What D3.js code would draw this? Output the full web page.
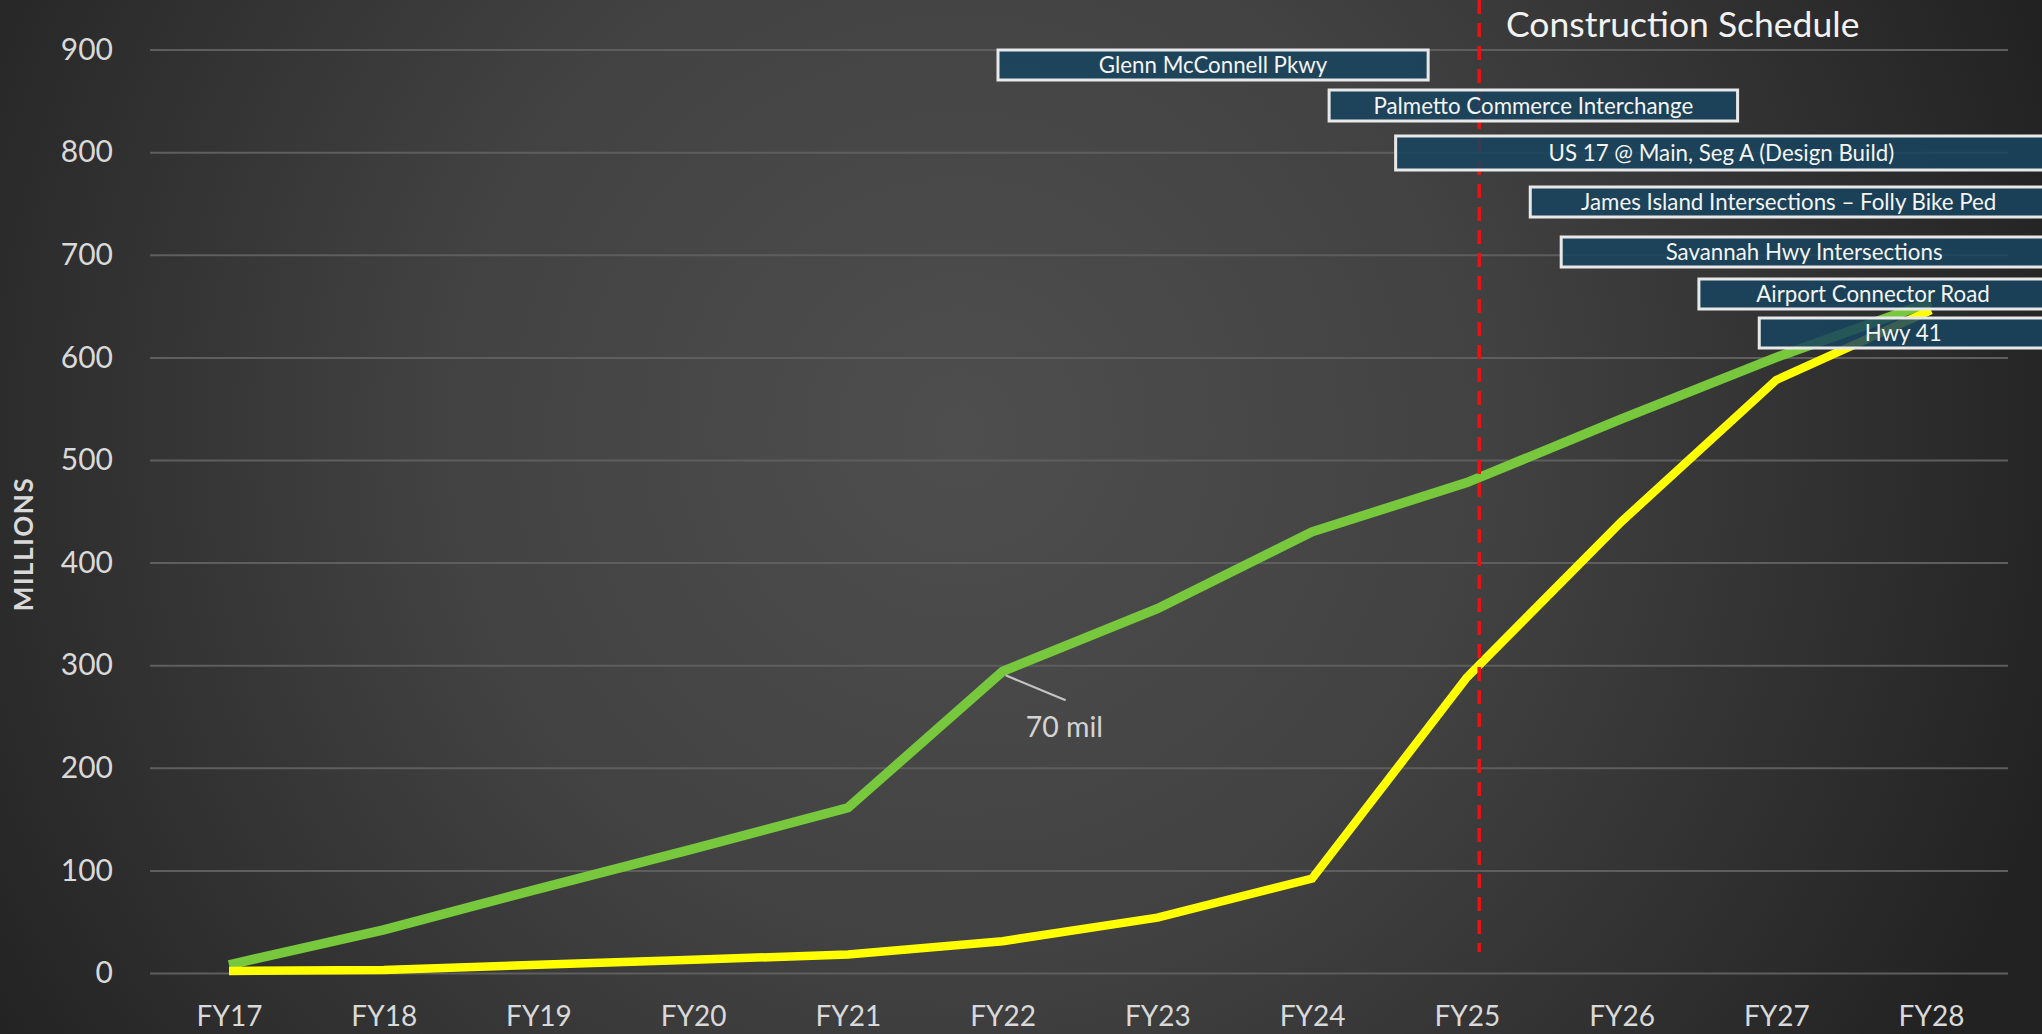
<!DOCTYPE html>
<html>
<head>
<meta charset="utf-8">
<script src="https://cdn.jsdelivr.net/npm/d3@7"></script>
<style>
  html, body { margin: 0; padding: 0; background: #2a2a2a; }
  svg { display: block; }
  text { font-family: Lato, "Open Sans", sans-serif; }
</style>
</head>
<body>
<svg id="chart" width="2042" height="1034"></svg>
<script>
// ---------- data ----------
const categories = ["FY17","FY18","FY19","FY20","FY21","FY22","FY23","FY24","FY25","FY26","FY27","FY28"];
const fiscalYears = [17,18,19,20,21,22,23,24,25,26,27,28];
const greenSeries = [8, 42, 82, 121, 161, 294, 355, 430, 478, 540, 600, 654];
const yellowSeries = [2, 3, 8, 13, 18, 31, 54, 92, 288, 440, 578, 646];
const yTickValues = [0,100,200,300,400,500,600,700,800,900];

const projectNames = [
  "Glenn McConnell Pkwy",
  "Palmetto Commerce Interchange",
  "US 17 @ Main, Seg A (Design Build)",
  "James Island Intersections \u2013 Folly Bike Ped",
  "Savannah Hwy Intersections",
  "Airport Connector Road",
  "Hwy 41"
];
const projectStart = [21.97, 24.11, 24.54, 25.41, 25.61, 26.50, 26.89];
const projectEnd   = [24.75, 26.75, 28.75, 28.75, 28.75, 28.75, 28.75];
const currentMarker = 25.08;

const titleText = "Construction Schedule";
const yAxisTitle = "MILLIONS";
const annotationText = "70 mil";
const annotationYear = 22;

// ---------- layout ----------
const W = 2042, H = 1034;
const svg = d3.select("#chart");
const x = d3.scaleLinear().domain([17, 28]).range([229, 1931]);
const y = d3.scaleLinear().domain([0, 900]).range([973, 49.6]);
const gridX0 = 150, gridX1 = 2008;
const rowTop = [50, 90, 136, 187, 237, 279, 318];
const rowH   = [30, 31, 34, 30, 30, 30, 30];

// background
const defs = svg.append("defs");
const rg = defs.append("radialGradient").attr("id", "bg")
  .attr("gradientUnits", "userSpaceOnUse")
  .attr("cx", 960).attr("cy", 430).attr("r", 1150);
rg.append("stop").attr("offset", "0").attr("stop-color", "#4e4e4e");
rg.append("stop").attr("offset", "0.45").attr("stop-color", "#424242");
rg.append("stop").attr("offset", "0.8").attr("stop-color", "#2e2e2e");
rg.append("stop").attr("offset", "1").attr("stop-color", "#222222");
svg.append("rect").attr("width", W).attr("height", H).attr("fill", "url(#bg)");

// gridlines
const yAxis = d3.axisLeft(y).tickValues(yTickValues).tickSize(-(gridX1 - gridX0)).tickPadding(37);
const gy = svg.append("g").attr("transform", `translate(${gridX0},0)`).call(yAxis);
gy.select(".domain").remove();
gy.selectAll(".tick line").attr("stroke", "#5e5e5e").attr("stroke-width", 2);
gy.selectAll(".tick text").attr("fill", "#d9d9d9").attr("font-size", 30).attr("font-family", "Lato");

// x axis labels
const xAxis = d3.axisBottom(x).tickValues(fiscalYears).tickFormat((d, i) => categories[i]).tickSize(0).tickPadding(0);
const gx = svg.append("g").attr("transform", `translate(0,${y(0)})`).call(xAxis);
gx.select(".domain").remove();
gx.selectAll(".tick text").attr("fill", "#d9d9d9").attr("font-size", 28).attr("font-family", "Lato")
  .attr("dy", null).attr("y", 53);

// y-axis title
svg.append("text").attr("transform", "translate(33,544) rotate(-90)")
  .attr("text-anchor", "middle").attr("fill", "#d9d9d9").attr("font-weight", "bold")
  .attr("font-size", 26).attr("letter-spacing", 1.5).text(yAxisTitle);

// lines
const line = d3.line().x((d, i) => x(fiscalYears[i])).y(d => y(d));
svg.append("path").datum(greenSeries).attr("d", line).attr("fill", "none")
  .attr("stroke", "#78c83e").attr("stroke-width", 9.5).attr("stroke-linejoin", "miter");
svg.append("path").datum(yellowSeries).attr("d", line).attr("fill", "none")
  .attr("stroke", "#ffff00").attr("stroke-width", 8.5).attr("stroke-linejoin", "miter");

// annotation
const ax = x(annotationYear), ay = y(greenSeries[fiscalYears.indexOf(annotationYear)]);
svg.append("line").attr("x1", ax + 3).attr("y1", ay + 4).attr("x2", ax + 63).attr("y2", ay + 29)
  .attr("stroke", "#c4c4c4").attr("stroke-width", 2.2);
svg.append("text").attr("x", ax + 23).attr("y", ay + 66).attr("fill", "#d4d4d4")
  .attr("font-size", 28.5).text(annotationText);

// current marker
svg.append("line").attr("x1", x(currentMarker)).attr("x2", x(currentMarker))
  .attr("y1", 0).attr("y2", 952).attr("stroke", "#ee1111").attr("stroke-width", 3.5)
  .attr("stroke-dasharray", "14,9");

// title
svg.append("text").attr("x", 1506).attr("y", 37).attr("fill", "#f2f2f2")
  .attr("font-size", 35.5).text(titleText);

// gantt bars
const bars = svg.append("g").selectAll("g").data(projectNames).join("g");
bars.append("rect")
  .attr("x", (d, i) => x(projectStart[i]))
  .attr("y", (d, i) => rowTop[i])
  .attr("width", (d, i) => x(projectEnd[i]) - x(projectStart[i]))
  .attr("height", (d, i) => rowH[i])
  .attr("fill", "#17455e").attr("fill-opacity", 0.86)
  .attr("stroke", "#e8e8e8").attr("stroke-width", 3);
bars.append("text")
  .attr("x", (d, i) => (x(projectStart[i]) + x(projectEnd[i])) / 2)
  .attr("y", (d, i) => rowTop[i] + rowH[i] / 2)
  .attr("dy", "0.36em").attr("text-anchor", "middle")
  .attr("fill", "#f4f4f4").attr("font-size", 22.3).text(d => d);
</script>
</body>
</html>
